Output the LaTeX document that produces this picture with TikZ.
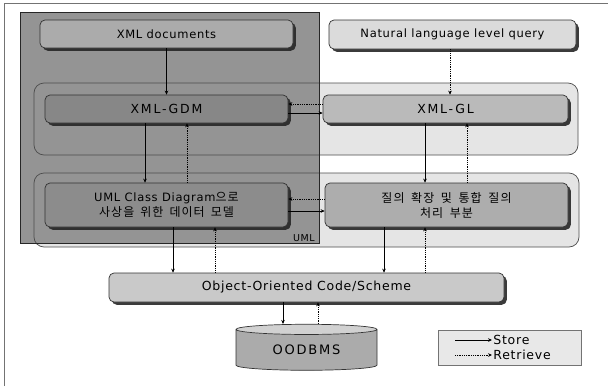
\documentclass[tikz,border=0pt]{standalone}
\usepackage{fontspec}
\setmainfont[LetterSpace=6]{DejaVu Sans}
\newfontfamily\wide[LetterSpace=14]{DejaVu Sans}
\newfontfamily\kr[LetterSpace=9]{Noto Sans CJK KR}
\usetikzlibrary{arrows.meta,shadows,shapes.geometric}

\tikzset{
  box/.style={draw=black!80, line width=0.7pt, rounded corners=5pt,
    inner sep=0pt, align=center, font=\fontsize{11.5}{15}\selectfont,
    drop shadow={shadow xshift=2.8pt, shadow yshift=-2.8pt, fill=black!85, opacity=0.9}},
  band/.style={draw=black!70, line width=0.7pt, rounded corners=10pt},
  tip/.style={-{Stealth[length=4pt,width=3.6pt]}},
  store/.style={tip, line width=0.8pt, black},
  retrieve/.style={tip, line width=0.8pt, black, densely dotted},
}

\begin{document}
\begin{tikzpicture}[x=1pt,y=-1pt]
\useasboundingbox (0,0) rectangle (608,386);

% page rule on the top and left sides
\draw[black!55, line width=0.9pt] (4,386) -- (4,3) -- (608,3);

% two horizontal layers
\fill[black!10] (34,83) [rounded corners=10pt] rectangle (578,155);
\fill[black!10] (34,173) [rounded corners=10pt] rectangle (579,247);

% UML region
\fill[black!42] (20,12) rectangle (319,243);

\draw[band] (34,83) rectangle (578,155);
\draw[band] (34,173) rectangle (579,247);
\draw[black!85, line width=0.9pt] (20,12) rectangle (319,243);
\node[font=\fontsize{9.5}{11}\selectfont, inner sep=0pt] (umltag) at (304,238) {UML};

% boxes
\node[box, fill=black!33, minimum width=253pt, minimum height=28pt] (xmldoc) at (166.5,34) {XML documents};
\node[box, fill=black!14, minimum width=247pt, minimum height=29pt] (nlq) at (452.5,34.5) {Natural language level query};
\node[box, fill=black!47, minimum width=243pt, minimum height=28pt, font=\wide\fontsize{12.5}{15}\selectfont] (gdm) at (166.5,109) {XML-GDM};
\node[box, fill=black!27, minimum width=245pt, minimum height=28pt, font=\wide\fontsize{12.5}{15}\selectfont] (gl) at (445.5,109) {XML-GL};
\node[box, fill=black!45, minimum width=243pt, minimum height=44pt] (uml) at (166.5,205)
  {UML Class Diagram{\kr\fontsize{12}{15}\selectfont 으로}\\{\kr\fontsize{12}{15}\selectfont\spaceskip=0.5em 사상을 위한 데이터 모델}};
\node[box, fill=black!32, minimum width=243pt, minimum height=44pt] (qry) at (446.5,205)
  {{\kr\fontsize{12}{15}\selectfont\spaceskip=0.55em 질의 확장 및 통합 질의}\\{\kr\fontsize{12}{15}\selectfont\spaceskip=0.55em 처리 부분}};
\node[box, fill=black!21, minimum width=395pt, minimum height=29pt, font=\fontsize{12.5}{15}\selectfont] (oo) at (306.5,287.5) {Object-Oriented Code/Scheme};
\node[cylinder, shape border rotate=90, draw=black!80, line width=0.7pt, aspect=0.15,
  minimum width=141pt, minimum height=46pt, inner sep=0pt,
  cylinder uses custom fill, cylinder body fill=black!33, cylinder end fill=black!18,
  font=\wide\fontsize{13}{15}\selectfont] (db) at (306.5,350) {OODBMS};

% column and row positions of the connectors
\coordinate (cA) at (145,0);  \coordinate (cB) at (187,0);
\coordinate (cC) at (425,0);  \coordinate (cD) at (467,0);
\coordinate (cE) at (173,0);  \coordinate (cF) at (215,0);
\coordinate (cG) at (384,0);  \coordinate (cH) at (425,0);
\coordinate (cI) at (283,0);  \coordinate (cJ) at (318,0);
\coordinate (cK) at (450,0);
\coordinate (r1) at (0,104);  \coordinate (r2) at (0,113);
\coordinate (r3) at (0,199);  \coordinate (r4) at (0,211);

% connectors
\draw[store] (xmldoc) -- (gdm);
\draw[retrieve] (nlq.south -| cK) -- (gl.north -| cK);
\draw[retrieve] (gl.west |- r1) -- (gdm.east |- r1);
\draw[store] (gdm.east |- r2) -- (gl.west |- r2);
\draw[retrieve] (qry.west |- r3) -- (uml.east |- r3);
\draw[store] (uml.east |- r4) -- (qry.west |- r4);
\draw[store] (gdm.south -| cA) -- (uml.north -| cA);
\draw[retrieve] (uml.north -| cB) -- (gdm.south -| cB);
\draw[store] (gl.south -| cC) -- (qry.north -| cC);
\draw[retrieve] (qry.north -| cD) -- (gl.south -| cD);
\draw[store] (uml.south -| cE) -- (oo.north -| cE);
\draw[retrieve] (oo.north -| cF) -- (uml.south -| cF);
\draw[store] (qry.south -| cG) -- (oo.north -| cG);
\draw[retrieve] (oo.north -| cH) -- (qry.south -| cH);
\draw[store] (oo.south -| cI) -- (db.north -| cI);
\draw[retrieve] (db.north -| cJ) -- (oo.south -| cJ);

% legend
\node[draw=black!55, line width=0.7pt, fill=black!9, minimum width=143pt, minimum height=35pt, inner sep=0pt] (leg) at (509.5,347.5) {};
\coordinate (ls1) at (455,340); \coordinate (ls2) at (492,340);
\coordinate (lr1) at (455,355); \coordinate (lr2) at (492,355);
\draw[store] (ls1) -- (ls2) node[right, inner sep=1pt, font=\fontsize{12.5}{14}\selectfont] (lgS) {Store};
\draw[retrieve] (lr1) -- (lr2) node[right, inner sep=1pt, font=\fontsize{12.5}{14}\selectfont] (lgR) {Retrieve};
\end{tikzpicture}
\end{document}
